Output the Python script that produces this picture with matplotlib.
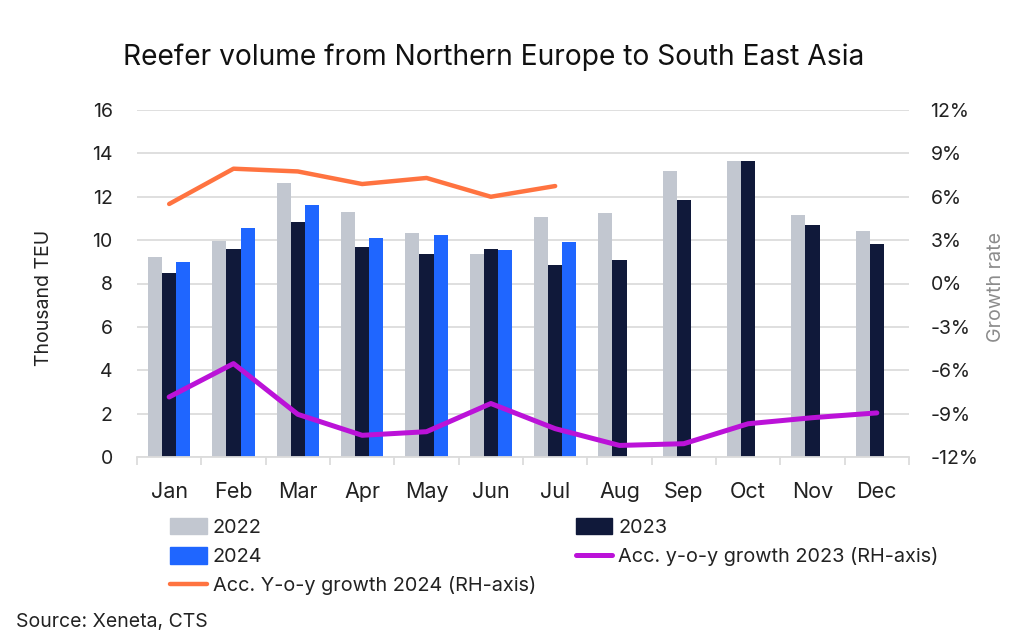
import matplotlib

matplotlib.use("Agg")
import matplotlib.pyplot as plt
import numpy as np
from matplotlib.lines import Line2D
from matplotlib.patches import Patch

months = ["Jan", "Feb", "Mar", "Apr", "May", "Jun", "Jul", "Aug", "Sep", "Oct", "Nov", "Dec"]
vol_2022 = [9.23, 9.95, 12.65, 11.3, 10.32, 9.37, 11.06, 11.23, 13.2, 13.65, 11.14, 10.4]
vol_2023 = [8.5, 9.57, 10.83, 9.68, 9.37, 9.57, 8.85, 9.1, 11.83, 13.65, 10.68, 9.8]
vol_2024 = [8.97, 10.58, 11.6, 10.1, 10.23, 9.54, 9.9]
growth_2023 = [-7.85, -5.54, -9.05, -10.5, -10.25, -8.3, -10.04, -11.2, -11.08, -9.7, -9.28, -8.95]
growth_2024 = [5.5, 7.94, 7.75, 6.88, 7.3, 6.0, 6.74]
left_ticks = [0, 2, 4, 6, 8, 10, 12, 14, 16]
right_ticks = [-12, -9, -6, -3, 0, 3, 6, 9, 12]
right_labels = ["-12%", "-9%", "-6%", "-3%", "0%", "3%", "6%", "9%", "12%"]

GREY = "#c2c7d0"
NAVY = "#10193a"
BLUE = "#1f66ff"
PURPLE = "#bb12d8"
ORANGE = "#ff7340"
GRID = "#dcdcdc"
W, H = 1024, 641

plt.rcParams["font.family"] = ["Inter", "DejaVu Sans"]

fig = plt.figure(figsize=(W / 100, H / 100), dpi=100)
ax = fig.add_axes([137 / W, 1 - 457 / H, 772 / W, 347 / H])

x = np.arange(len(months))
width = 0.22
ax.bar(x - width, vol_2022, width, color=GREY)
ax.bar(x, vol_2023, width, color=NAVY)
ax.bar(np.arange(len(vol_2024)) + width, vol_2024, width, color=BLUE)

ax.set_xlim(-0.5, 11.5)
ax.set_ylim(0, 16)
ax.set_yticks(left_ticks)
ax.set_xticks(x, months)
ax.set_xticks(np.arange(-0.5, 12), minor=True)
ax.set_axisbelow(True)
ax.grid(axis="y", color=GRID, lw=1.3)
ax.tick_params(axis="y", length=0, pad=17.5, labelsize=14, labelcolor="#222222")
ax.tick_params(axis="x", which="major", length=0, pad=18, labelsize=15.5, labelcolor="#222222")
ax.tick_params(axis="x", which="minor", length=6, width=1.3, color=GRID)
for side in ("top", "left", "right"):
    ax.spines[side].set_visible(False)
ax.spines["bottom"].set_color(GRID)
ax.spines["bottom"].set_linewidth(1.3)

ax2 = ax.twinx()
ax2.plot(x, growth_2023, color=PURPLE, lw=3.6, solid_capstyle="round", solid_joinstyle="round")
ax2.plot(x[:len(growth_2024)], growth_2024, color=ORANGE, lw=3.2, solid_capstyle="round", solid_joinstyle="round")
ax2.set_ylim(-12, 12)
ax2.set_yticks(right_ticks, right_labels)
ax2.tick_params(axis="y", length=0, pad=15.5, labelsize=14, labelcolor="#222222")
for spine in ax2.spines.values():
    spine.set_visible(False)

fig.text(494 / W, 1 - 57 / H, "Reefer volume from Northern Europe to South East Asia",
         ha="center", va="center", fontsize=20.3, color="#111111")
fig.text(44 / W, 1 - 298 / H, "Thousand TEU", rotation=90, ha="center", va="center",
         fontsize=14, color="#222222")
fig.text(996 / W, 1 - 287 / H, "Growth rate", rotation=90, ha="center", va="center",
         fontsize=14.2, color="#8c8c8c")

# column-first fill, so 2022 / 2024 / orange sit in the first column
handles = [
    Patch(color=GREY),
    Patch(color=BLUE),
    Line2D([], [], color=ORANGE, lw=3.2, solid_capstyle="round"),
    Patch(color=NAVY),
    Line2D([], [], color=PURPLE, lw=3.6, solid_capstyle="round"),
]
labels = ["2022", "2024", "Acc. Y-o-y growth 2024 (RH-axis)", "2023", "Acc. y-o-y growth 2023 (RH-axis)"]
fig.legend(handles, labels, ncol=2, frameon=False, fontsize=14.3, labelcolor="#222222",
           loc="upper left", bbox_to_anchor=(170 / W, 1 - 518 / H), borderaxespad=0, borderpad=0,
           handlelength=1.85, handleheight=0.9, handletextpad=0.3, labelspacing=0.5, columnspacing=2.0)

fig.text(16 / W, 1 - 622 / H, "Source: Xeneta, CTS", ha="left", va="center", fontsize=14, color="#222222")

fig.savefig("out.png", dpi=100)
